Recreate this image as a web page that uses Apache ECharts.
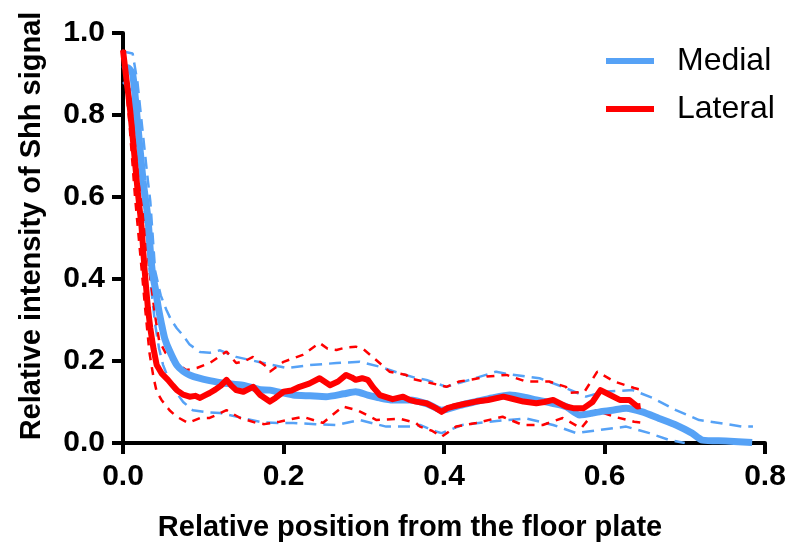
<!DOCTYPE html>
<html>
<head>
<meta charset="utf-8">
<script src="https://cdn.jsdelivr.net/npm/echarts@6/dist/echarts.min.js"></script>
<style>
html,body{margin:0;padding:0;background:#fff;}
#chart{width:790px;height:548px;}
</style>
</head>
<body>
<div id="chart"></div>
<script>
// ---- data ----
const xTicks = [0, 0.2, 0.4, 0.6, 0.8];
const yTicks = [0, 0.2, 0.4, 0.6, 0.8, 1.0];

const medialMeanX = [0, 0.006, 0.012, 0.017, 0.025, 0.031, 0.034, 0.037, 0.04, 0.044, 0.048, 0.052, 0.058, 0.067, 0.075, 0.083, 0.095, 0.108, 0.125, 0.149, 0.171, 0.183, 0.212, 0.233, 0.253, 0.275, 0.29, 0.305, 0.32, 0.336, 0.357, 0.38, 0.397, 0.42, 0.44, 0.46, 0.482, 0.5, 0.515, 0.535, 0.552, 0.569, 0.594, 0.61, 0.627, 0.647, 0.668, 0.689, 0.709, 0.722, 0.751, 0.784];
const medialMeanY = [0.91, 0.915, 0.9, 0.805, 0.64, 0.55, 0.47, 0.41, 0.38, 0.33, 0.29, 0.255, 0.225, 0.19, 0.175, 0.166, 0.158, 0.152, 0.146, 0.141, 0.13, 0.129, 0.117, 0.115, 0.113, 0.12, 0.125, 0.117, 0.11, 0.105, 0.105, 0.095, 0.08, 0.092, 0.101, 0.11, 0.117, 0.112, 0.105, 0.097, 0.089, 0.068, 0.076, 0.08, 0.085, 0.076, 0.06, 0.044, 0.024, 0.007, 0.005, 0.001];

const medialUpperX = [0, 0.012, 0.018, 0.025, 0.031, 0.034, 0.04, 0.047, 0.054, 0.06, 0.067, 0.075, 0.083, 0.096, 0.108, 0.121, 0.141, 0.171, 0.204, 0.233, 0.266, 0.295, 0.32, 0.345, 0.366, 0.378, 0.403, 0.432, 0.465, 0.48, 0.519, 0.552, 0.577, 0.598, 0.635, 0.66, 0.689, 0.718, 0.743, 0.772, 0.785];
const medialUpperY = [0.955, 0.95, 0.88, 0.75, 0.64, 0.59, 0.42, 0.36, 0.325, 0.3, 0.28, 0.262, 0.24, 0.222, 0.22, 0.226, 0.21, 0.197, 0.183, 0.19, 0.195, 0.198, 0.186, 0.17, 0.158, 0.154, 0.137, 0.154, 0.174, 0.168, 0.158, 0.134, 0.113, 0.125, 0.129, 0.11, 0.08, 0.056, 0.049, 0.04, 0.04];

const medialLowerX = [0, 0.01, 0.02, 0.03, 0.035, 0.04, 0.045, 0.05, 0.06, 0.075, 0.087, 0.105, 0.121, 0.149, 0.174, 0.195, 0.212, 0.24, 0.266, 0.295, 0.328, 0.361, 0.37, 0.39, 0.397, 0.423, 0.457, 0.502, 0.536, 0.565, 0.594, 0.627, 0.656, 0.681, 0.7];
const medialLowerY = [0.88, 0.86, 0.7, 0.5, 0.38, 0.29, 0.23, 0.19, 0.14, 0.1, 0.08, 0.075, 0.073, 0.061, 0.05, 0.049, 0.049, 0.046, 0.044, 0.056, 0.04, 0.04, 0.044, 0.028, 0.024, 0.044, 0.052, 0.06, 0.044, 0.024, 0.032, 0.04, 0.024, 0.007, 0.0];

const lateralMeanX = [0, 0.009, 0.018, 0.023, 0.027, 0.031, 0.034, 0.038, 0.042, 0.048, 0.056, 0.062, 0.067, 0.075, 0.083, 0.09, 0.096, 0.102, 0.108, 0.115, 0.122, 0.129, 0.135, 0.141, 0.15, 0.162, 0.171, 0.183, 0.19, 0.2, 0.21, 0.22, 0.232, 0.245, 0.258, 0.268, 0.278, 0.285, 0.29, 0.298, 0.305, 0.312, 0.32, 0.336, 0.349, 0.357, 0.365, 0.378, 0.39, 0.397, 0.404, 0.411, 0.425, 0.44, 0.455, 0.474, 0.485, 0.499, 0.515, 0.525, 0.536, 0.544, 0.552, 0.561, 0.574, 0.585, 0.595, 0.607, 0.619, 0.631, 0.641, 0.645];
const lateralMeanY = [0.958, 0.81, 0.62, 0.53, 0.42, 0.33, 0.28, 0.23, 0.19, 0.17, 0.154, 0.14, 0.129, 0.118, 0.113, 0.115, 0.11, 0.116, 0.122, 0.13, 0.14, 0.154, 0.14, 0.129, 0.125, 0.137, 0.117, 0.101, 0.11, 0.125, 0.128, 0.137, 0.145, 0.158, 0.141, 0.15, 0.166, 0.16, 0.154, 0.158, 0.154, 0.135, 0.117, 0.107, 0.113, 0.105, 0.101, 0.097, 0.085, 0.076, 0.085, 0.089, 0.095, 0.101, 0.105, 0.113, 0.108, 0.101, 0.097, 0.1, 0.105, 0.097, 0.089, 0.085, 0.085, 0.1, 0.129, 0.117, 0.105, 0.105, 0.089, 0.09];

const lateralUpperX = [0, 0.01, 0.02, 0.027, 0.033, 0.04, 0.045, 0.053, 0.062, 0.079, 0.092, 0.108, 0.129, 0.141, 0.152, 0.162, 0.179, 0.183, 0.2, 0.224, 0.245, 0.255, 0.266, 0.278, 0.29, 0.3, 0.311, 0.332, 0.353, 0.357, 0.38, 0.403, 0.419, 0.435, 0.453, 0.478, 0.502, 0.531, 0.552, 0.556, 0.575, 0.591, 0.612, 0.637, 0.645];
const lateralUpperY = [0.96, 0.83, 0.65, 0.52, 0.42, 0.31, 0.25, 0.22, 0.2, 0.178, 0.183, 0.195, 0.223, 0.195, 0.2, 0.21, 0.186, 0.174, 0.198, 0.215, 0.244, 0.23, 0.227, 0.233, 0.235, 0.228, 0.21, 0.174, 0.166, 0.158, 0.148, 0.137, 0.15, 0.155, 0.162, 0.166, 0.15, 0.15, 0.137, 0.122, 0.125, 0.174, 0.15, 0.134, 0.13];

const lateralLowerX = [0, 0.008, 0.015, 0.022, 0.028, 0.033, 0.038, 0.042, 0.048, 0.058, 0.067, 0.081, 0.096, 0.108, 0.129, 0.146, 0.166, 0.176, 0.195, 0.224, 0.249, 0.274, 0.292, 0.316, 0.345, 0.365, 0.37, 0.385, 0.397, 0.415, 0.44, 0.473, 0.498, 0.523, 0.548, 0.571, 0.589, 0.612, 0.637, 0.645];
const lateralLowerY = [0.95, 0.78, 0.6, 0.45, 0.32, 0.22, 0.16, 0.125, 0.105, 0.08, 0.064, 0.049, 0.061, 0.061, 0.08, 0.061, 0.049, 0.046, 0.052, 0.064, 0.049, 0.089, 0.08, 0.056, 0.059, 0.049, 0.04, 0.03, 0.015, 0.04, 0.049, 0.064, 0.044, 0.044, 0.061, 0.036, 0.08, 0.064, 0.052, 0.05];

const seriesNames = ['Medial', 'Lateral'];
const xTitle = 'Relative position from the floor plate';
const yTitle = 'Relative intensity of Shh signal';

// ---- build ----
function zip(xs, ys) { return xs.map((x, i) => [x, ys[i]]); }
const BLUE = '#56a2f6';
const RED = '#ff0000';
const FONT = '"Liberation Sans", Arial, sans-serif';
const LEGEND_ICON = 'path://M0,0L48,0L48,6L0,6Z';

function dashed(name, xs, ys, color, dash) {
  return {
    name: name, type: 'line', data: zip(xs, ys), showSymbol: false, symbol: 'none',
    lineStyle: { color: color, width: 2.5, type: dash }, z: 2, silent: true
  };
}

const chart = echarts.init(document.getElementById('chart'), null, { renderer: 'canvas' });
const axisCommon = {
  type: 'value',
  axisLine: { show: true, lineStyle: { color: '#000', width: 4 } },
  axisTick: { show: true, length: 11, lineStyle: { color: '#000', width: 4 } },
  splitLine: { show: false },
  axisLabel: { color: '#000', fontSize: 30, fontWeight: 'bold', fontFamily: FONT, formatter: v => v.toFixed(1) },
  nameLocation: 'middle',
  nameTextStyle: { color: '#000', fontSize: 29, fontWeight: 'bold', fontFamily: FONT }
};

chart.setOption({
  animation: false,
  backgroundColor: '#fff',
  grid: { left: 123, right: 25, top: 33, bottom: 105, containLabel: false },
  legend: {
    data: [
      { name: seriesNames[0], icon: LEGEND_ICON, itemStyle: { color: BLUE, borderWidth: 0 } },
      { name: seriesNames[1], icon: LEGEND_ICON, itemStyle: { color: RED, borderWidth: 0 } }
    ],
    orient: 'vertical',
    left: 601, top: 40,
    itemWidth: 48, itemHeight: 6, itemGap: 16,
    itemStyle: { borderWidth: 0 },
    lineStyle: { type: 'solid' },
    textStyle: { fontSize: 32, color: '#000', fontFamily: FONT, padding: [0, 0, 0, 18] }
  },
  xAxis: Object.assign({}, axisCommon, {
    min: xTicks[0], max: xTicks[xTicks.length - 1], interval: 0.2,
    axisLabel: Object.assign({}, axisCommon.axisLabel, { margin: 19 }),
    name: xTitle, nameGap: 70,
    nameTextStyle: Object.assign({}, axisCommon.nameTextStyle, { padding: [0, 68, 0, 0] })
  }),
  yAxis: Object.assign({}, axisCommon, {
    min: yTicks[0], max: yTicks[yTicks.length - 1], interval: 0.2,
    axisLabel: Object.assign({}, axisCommon.axisLabel, { margin: 18 }),
    name: yTitle, nameGap: 77,
    nameTextStyle: Object.assign({}, axisCommon.nameTextStyle, { padding: [0, 0, 0, 24] })
  }),
  series: [
    dashed('Medial upper', medialUpperX, medialUpperY, BLUE, [12, 7]),
    dashed('Medial lower', medialLowerX, medialLowerY, BLUE, [12, 7]),
    { name: 'Medial', type: 'line', data: zip(medialMeanX, medialMeanY), showSymbol: false, symbol: 'none',
      smooth: 0.2, lineStyle: { color: BLUE, width: 7 }, itemStyle: { color: BLUE }, z: 3 },
    dashed('Lateral upper', lateralUpperX, lateralUpperY, RED, [8, 7]),
    dashed('Lateral lower', lateralLowerX, lateralLowerY, RED, [8, 7]),
    { name: 'Lateral', type: 'line', data: zip(lateralMeanX, lateralMeanY), showSymbol: false, symbol: 'none',
      lineStyle: { color: RED, width: 6, join: 'round' }, itemStyle: { color: RED }, z: 4 }
  ]
});
</script>
</body>
</html>
